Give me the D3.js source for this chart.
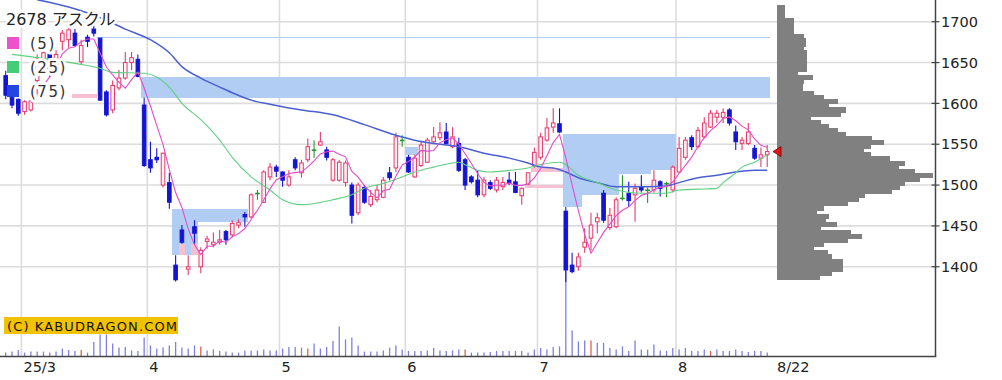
<!DOCTYPE html>
<html><head><meta charset="utf-8">
<script src="https://cdn.jsdelivr.net/npm/d3@7/dist/d3.min.js"></script>
<style>html,body{margin:0;padding:0;background:#fff;}svg{display:block}</style>
</head><body>
<svg id="c" width="1002" height="380"></svg>
<script>
// ---------- DATA ----------
const title = "2678 アスクル";
const maLabels = ["(5)", "(25)", "(75)"];
const dates = [
 "2/26","2/27","2/28",
 "3/3","3/4","3/5","3/6","3/7","3/10","3/11","3/12","3/13","3/14","3/17","3/18","3/19","3/21","3/24","3/25","3/26","3/27","3/28","3/31",
 "4/1","4/2","4/3","4/4","4/7","4/8","4/9","4/10","4/11","4/14","4/15","4/16","4/17","4/18","4/21","4/22","4/23","4/24","4/25","4/28","4/30",
 "5/1","5/2","5/7","5/8","5/9","5/12","5/13","5/14","5/15","5/16","5/19","5/20","5/21","5/22","5/23","5/26","5/27","5/28","5/29","5/30",
 "6/2","6/3","6/4","6/5","6/6","6/9","6/10","6/11","6/12","6/13","6/16","6/17","6/18","6/19","6/20","6/23","6/24","6/25","6/26","6/27","6/30",
 "7/1","7/2","7/3","7/4","7/7","7/8","7/9","7/10","7/11","7/14","7/15","7/16","7/17","7/18","7/22","7/23","7/24","7/25","7/28","7/29","7/30","7/31",
 "8/1","8/4","8/5","8/6","8/7","8/8","8/12","8/13","8/14","8/15","8/18","8/19","8/20","8/21","8/22"];
const opens = [1634,1608,1605,1590,1592,1628,1650,1660,1642,1676,1678,1686,1651,1681,1691,1680,1614,1592,1619,1631,1650,1654,1598,
 1531,1534,1500,1503,1402,1445,1397,1449,1400,1431,1427,1430,1443,1439,1451,1464,1461,1490,1479,1510,1522,
 1516,1500,1531,1515,1531,1543,1549,1543,1506,1506,1503,1500,1466,1497,1476,1482,1485,1515,1521,1555,
 1534,1510,1524,1528,1553,1558,1565,1547,1551,1531,1510,1506,1488,1503,1494,1498,1506,1504,1487,1501,1524,
 1534,1555,1571,1575,1468,1402,1400,1424,1435,1455,1490,1448,1449,1484,1490,1488,1497,1494,1494,1504,1502,1494,
 1516,1534,1558,1547,1559,1571,1583,1583,1592,1565,1551,1551,1545,1533,1537];
const highs = [1640,1610,1606,1604,1606,1660,1668,1664,1665,1690,1692,1691,1678,1684,1695,1680,1616,1628,1641,1663,1663,1660,1607,
 1553,1545,1540,1515,1414,1451,1414,1457,1424,1438,1442,1445,1445,1457,1458,1467,1490,1494,1518,1527,1525,
 1517,1518,1534,1531,1557,1555,1565,1547,1533,1531,1530,1503,1503,1500,1494,1500,1510,1522,1564,1561,
 1537,1537,1553,1558,1571,1577,1576,1571,1558,1533,1512,1518,1510,1506,1510,1510,1516,1516,1497,1516,1546,
 1564,1582,1594,1594,1473,1417,1417,1447,1466,1466,1494,1472,1485,1512,1504,1502,1512,1497,1518,1506,1504,1524,
 1559,1559,1561,1571,1583,1592,1592,1594,1594,1573,1559,1576,1549,1546,1549];
const lows = [1605,1594,1585,1586,1590,1611,1640,1632,1636,1665,1668,1669,1647,1669,1682,1603,1584,1588,1616,1629,1641,1632,1522,
 1515,1527,1497,1471,1382,1428,1390,1428,1392,1422,1424,1427,1427,1436,1447,1449,1459,1482,1478,1506,1510,
 1498,1498,1518,1509,1528,1533,1548,1530,1504,1504,1498,1453,1463,1477,1473,1479,1484,1506,1516,1547,
 1515,1509,1522,1527,1551,1555,1549,1545,1516,1494,1502,1485,1485,1494,1491,1494,1500,1490,1476,1500,1521,
 1531,1553,1564,1564,1381,1392,1395,1417,1420,1441,1454,1445,1447,1481,1473,1455,1491,1478,1491,1486,1485,1491,
 1515,1531,1543,1545,1557,1570,1576,1576,1573,1543,1543,1549,1531,1522,1522];
const closes = [1610,1598,1588,1602,1603,1655,1662,1640,1660,1686,1690,1671,1671,1676,1686,1604,1586,1622,1631,1650,1656,1633,1524,
 1521,1531,1539,1479,1384,1430,1400,1441,1420,1434,1430,1433,1433,1453,1454,1461,1488,1490,1516,1522,1517,
 1506,1510,1521,1527,1547,1543,1553,1534,1531,1528,1527,1463,1500,1479,1486,1494,1506,1509,1559,1555,
 1516,1533,1549,1555,1559,1564,1551,1559,1518,1500,1504,1488,1506,1496,1506,1503,1502,1491,1496,1515,1540,
 1559,1570,1576,1565,1396,1394,1412,1430,1451,1460,1457,1463,1482,1484,1481,1496,1494,1494,1506,1496,1502,1522,
 1545,1555,1547,1567,1576,1588,1588,1589,1576,1553,1555,1565,1533,1537,1541];
// volume in thousand shares
const volumes = [17,22,30,17,22,22,22,17,22,37,30,25,30,17,70,108,108,62,42,45,28,25,92,
 53,37,42,53,70,42,37,53,47,28,33,25,22,17,17,28,28,28,33,28,28,
 37,45,45,42,37,62,37,45,75,147,83,92,53,22,22,22,28,42,53,32,
 25,25,25,28,40,28,25,28,32,32,17,17,17,20,25,25,25,25,25,17,32,
 40,33,45,48,425,128,73,78,78,65,65,40,32,48,25,78,32,32,57,28,25,40,
 32,40,25,25,32,25,32,25,25,32,25,20,25,25,17];
const sqDates = ["3/14","4/11","5/9","6/13","7/11","8/8"];
// 25-day and 75-day moving averages at these day indices
const ma25Idx = [1,11,15,17,22,26,28,31,34,36,39,42,44,47,52,55,57,60,63,65,68,71,72,73,75,77,80,83,85,88,89,91,94,97,101,105,107,110,113,114,116,117,119,121];
const ma25Val = [1660,1649,1643,1638,1637,1620,1600,1580,1555,1534,1510,1494,1482,1476,1482,1488,1496,1502,1510,1516,1522,1527,1528,1525,1518,1516,1518,1521,1525,1528,1525,1512,1503,1494,1490,1490,1494,1495,1496,1503,1515,1522,1528,1537];
const ma75Idx = [5,10,15,19,23,26,28,31,34,36,39,42,44,47,52,57,62,65,68,72,76,80,83,85,87,89,91,94,97,99,102,105,107,110,113,116,119,121];
const ma75Val = [1727,1718,1705,1691,1678,1662,1645,1631,1620,1613,1604,1599,1596,1592,1586,1574,1561,1555,1551,1547,1539,1533,1527,1522,1521,1516,1509,1503,1498,1498,1498,1499,1503,1509,1512,1516,1518,1518];
// price-volume profile: bin low price (5-yen bins) and relative volume
const profileLow = [1715,1710,1705,1700,1695,1690,1685,1680,1675,1670,1665,1660,1655,1650,1645,1640,1635,1630,1625,1620,1615,1610,1605,1600,1595,1590,1585,1580,1575,1570,1565,1560,1555,1550,1545,1540,1535,1530,1525,1520,1515,1510,1505,1500,1495,1490,1485,1480,1475,1470,1465,1460,1455,1450,1445,1440,1435,1430,1425,1420,1415,1410,1405,1400,1395,1390,1385];
const profileVol = [8,8,8,17,17,17,17,27,29,29,27,30,30,30,30,30,21,36,27,26,26,37,47,61,52,69,64,34,44,52,61,69,95,107,94,87,94,113,128,122,138,156,143,128,123,115,88,82,71,47,40,52,49,60,44,74,85,71,47,37,51,55,66,66,66,55,43];
// price gaps (窓): start day, end day, low, high, up(1)/down(0)
const gapStart = [15,22,27,27,64,89,92,98,103,11,28,30,83,84];
const gapEnd   = [121,121,38,30,65,91,97,102,106,14,28,30,88,88];
const gapLo    = [1680.5,1607,1455,1414,1537,1473,1488,1514,1518,1606,1414,1414,1497,1516];
const gapHi    = [1681.5,1632,1471,1455,1547,1563,1563,1563,1563,1611,1428,1428,1500,1521];
const gapUp    = [0,0,0,0,0,0,0,0,0,1,1,1,1,1];
const priceTicks = [1400,1450,1500,1550,1600,1650,1700];
const monthLabels = ["25/3","4","5","6","7","8"];
const monthStarts = ["3/3","4/1","5/1","6/2","7/1","8/1"];
const lastLabel = "8/22";
const copyright = "(C) KABUDRAGON.COM";

// ---------- CHART ----------
const svg = d3.select("#c");
const font = "'DejaVu Sans','Noto Sans CJK JP',sans-serif";
const n = dates.length;
const x = d3.scaleLinear().domain([0, n - 1]).range([5.7, 767.2]);
const y = d3.scaleLinear().domain([1290.7, 1726.6]).range([356, 0]);
const yv = d3.scaleLinear().domain([0, 500]).range([356, 256]);
const xp = d3.scaleLinear().domain([0, 160]).range([776.5, 936.5]);
const step = x(1) - x(0);
const axisX = 935.5, axisY = 356.5;

// grid
const g = svg.append("g");
g.selectAll("line.h").data(priceTicks).join("line")
  .attr("x1", 0).attr("x2", axisX).attr("y1", d => y(d)).attr("y2", d => y(d))
  .attr("stroke", "#dcdcdc").attr("stroke-width", 1.6);
const monthIdx = monthStarts.map(d => dates.indexOf(d));
g.selectAll("line.v").data(monthIdx).join("line")
  .attr("x1", d => x(d - 0.5)).attr("x2", d => x(d - 0.5)).attr("y1", 0).attr("y2", axisY)
  .attr("stroke", "#dcdcdc").attr("stroke-width", 1.6);

// gaps
const gaps = gapStart.map((s, k) => ({s, e: gapEnd[k], lo: gapLo[k], hi: gapHi[k], up: gapUp[k]}));
svg.append("g").attr("shape-rendering", "crispEdges").selectAll("rect").data(gaps).join("rect")
  .attr("x", d => x(d.s) - step / 2)
  .attr("width", d => x(d.e) - x(d.s) + step)
  .attr("y", d => y(d.hi))
  .attr("height", d => Math.max(1, y(d.lo) - y(d.hi)))
  .attr("fill", d => d.up ? "#f6bfd2" : "#b1cdf4");

// volume
svg.append("g").selectAll("line").data(volumes).join("line")
  .attr("x1", (d, i) => x(i)).attr("x2", (d, i) => x(i))
  .attr("y1", yv(0)).attr("y2", d => yv(d))
  .attr("stroke", (d, i) => sqDates.includes(dates[i]) ? "#e0604c" : "#7f7fde")
  .attr("stroke-width", 1.3);

// profile
svg.append("g").attr("shape-rendering", "crispEdges").selectAll("rect").data(profileLow).join("rect")
  .attr("x", xp(0)).attr("y", d => y(d + 5))
  .attr("height", d => y(d) - y(d + 5) + 1)
  .attr("width", (d, k) => xp(profileVol[k]) - xp(0))
  .attr("fill", "#808080");

// candles
const candles = d3.range(n).map(i => ({i, o: opens[i], h: highs[i], l: lows[i], c: closes[i]}));
const col = d => d.c > d.o ? "#e63a6c" : d.c < d.o ? "#1414d4" : "#24962f";
const cg = svg.append("g");
cg.selectAll("line").data(candles).join("line")
  .attr("x1", d => x(d.i)).attr("x2", d => x(d.i))
  .attr("y1", d => y(d.h)).attr("y2", d => y(d.l))
  .attr("stroke", col).attr("stroke-width", 1.1);
cg.selectAll("rect").data(candles).join("rect")
  .attr("x", d => x(d.i) - 1.8).attr("width", 3.6)
  .attr("y", d => y(Math.max(d.o, d.c)))
  .attr("height", d => Math.max(0.6, Math.abs(y(d.o) - y(d.c))))
  .attr("fill", d => d.c > d.o ? "#fff2f6" : col(d))
  .attr("stroke", col).attr("stroke-width", 1);

// moving averages
const ma5 = d3.range(4, n).map(i => ({i, v: d3.mean(closes.slice(i - 4, i + 1))}));
const line = d3.line().x(d => x(d.i)).y(d => y(d.v));
const lineS = d3.line().x(d => x(d.i)).y(d => y(d.v)).curve(d3.curveMonotoneX);
svg.append("path").attr("d", lineS(ma75Idx.map((i, k) => ({i, v: ma75Val[k]}))))
  .attr("fill", "none").attr("stroke", "#4a5fd2").attr("stroke-width", 1.5);
svg.append("path").attr("d", lineS(ma25Idx.map((i, k) => ({i, v: ma25Val[k]}))))
  .attr("fill", "none").attr("stroke", "#5fcf82").attr("stroke-width", 1.1);
svg.append("path").attr("d", line(ma5))
  .attr("fill", "none").attr("stroke", "#e24cc8").attr("stroke-width", 1.1);

// legend
const lg = svg.append("g").attr("font-family", font);
lg.append("text").attr("x", 6).attr("y", 25).attr("font-size", 16).text(title)
  .attr("fill", "#222").attr("stroke", "#fff").attr("stroke-width", 5)
  .attr("paint-order", "stroke").attr("stroke-linejoin", "round");
const legCols = ["#ef50cc", "#45cc78", "#2446e0"];
maLabels.forEach((t, k) => {
  const yy = 37 + k * 24;
  lg.append("rect").attr("x", 7).attr("y", yy).attr("width", 12).attr("height", 12).attr("fill", legCols[k]);
  lg.append("text").attr("x", 30).attr("y", yy + 12).attr("font-size", 15).attr("letter-spacing", 1.5)
    .attr("fill", "#333").attr("stroke", "#fff").attr("stroke-width", 6)
    .attr("paint-order", "stroke").attr("stroke-linejoin", "round").text(t);
});

// copyright
svg.append("rect").attr("x", 4).attr("y", 317).attr("width", 174).attr("height", 17).attr("fill", "#f2c200");
svg.append("text").attr("x", 7).attr("y", 331).attr("font-family", font)
  .attr("font-size", 13).attr("textLength", 170).attr("lengthAdjust", "spacing")
  .attr("fill", "#111").text(copyright);

// last price marker
const yl = y(closes[n - 1]);
svg.append("path").attr("d", `M773,${yl} L781,${yl - 5} L781,${yl + 5} Z`)
  .attr("fill", "#e01414").attr("stroke", "#700").attr("stroke-width", 0.8);

// axes
svg.append("line").attr("x1", axisX).attr("x2", axisX).attr("y1", 0).attr("y2", axisY)
  .attr("stroke", "#444").attr("stroke-width", 1.5);
svg.append("line").attr("x1", 0).attr("x2", axisX + 0.75).attr("y1", axisY).attr("y2", axisY)
  .attr("stroke", "#444").attr("stroke-width", 1.5);
const ax = svg.append("g").attr("font-family", font).attr("font-size", 14.5).attr("fill", "#222");
ax.selectAll("line").data(priceTicks).join("line")
  .attr("x1", axisX - 4).attr("x2", axisX + 4).attr("y1", d => y(d)).attr("y2", d => y(d))
  .attr("stroke", "#444").attr("stroke-width", 1.2);
ax.selectAll("text.p").data(priceTicks).join("text")
  .attr("x", 941).attr("y", d => y(d)).attr("dy", "0.36em").text(d => d);
ax.selectAll("text.m").data(monthLabels).join("text")
  .attr("x", (d, k) => x(monthIdx[k] - 0.5) + 2).attr("y", 372).text(d => d);
ax.append("text").attr("x", 777).attr("y", 372).text(lastLabel);
</script>
</body></html>
